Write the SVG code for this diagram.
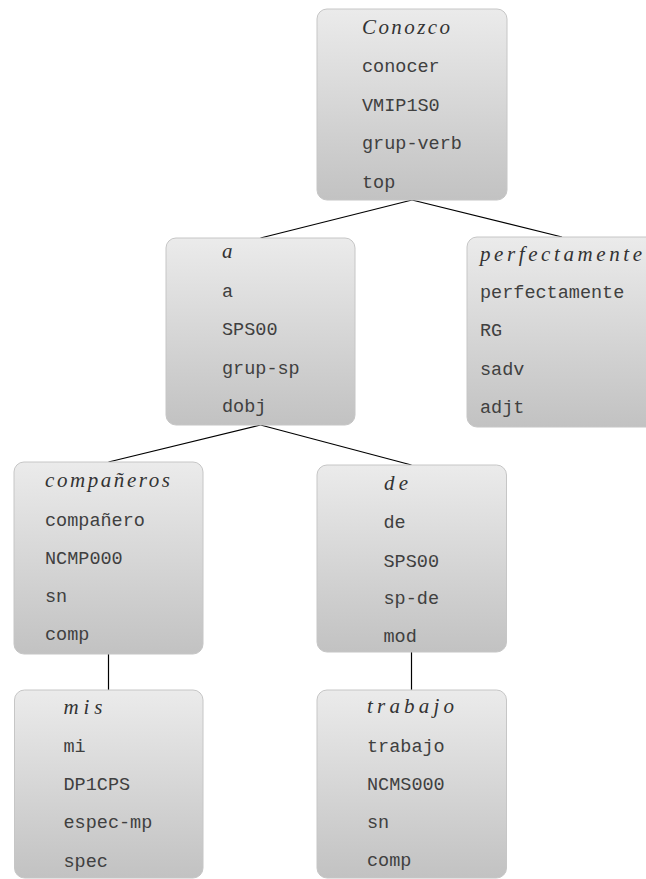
<svg xmlns="http://www.w3.org/2000/svg" width="646" height="879" viewBox="0 0 646 879">
<defs>
<linearGradient id="g" x1="0" y1="0" x2="0" y2="1">
<stop offset="0" stop-color="#ebebeb"/>
<stop offset="1" stop-color="#c2c2c2"/>
</linearGradient>
<style>
.box{fill:url(#g);stroke:#c6c6c6;stroke-width:1}
.t{font-family:"Liberation Mono","DejaVu Sans Mono",monospace;font-size:18.5px;fill:#404040}
.w{font-family:"Liberation Serif","DejaVu Serif",serif;font-style:italic;font-size:21px;fill:#333}
.c line{stroke:#000;stroke-width:1.2}
</style>
</defs>
<rect width="646" height="879" fill="#fff"/>
<g class="c" id="connectors">
<line x1="412" y1="200" x2="260.5" y2="238"/>
<line x1="412" y1="200" x2="562" y2="237"/>
<line x1="260.5" y1="425" x2="108.5" y2="462"/>
<line x1="260.5" y1="425" x2="411.5" y2="465"/>
<line x1="108.5" y1="654" x2="108.5" y2="690"/>
<line x1="411.5" y1="652" x2="411.5" y2="690"/>
</g>
<g id="n-conozco">
<rect class="box" x="317" y="9" width="190" height="191" rx="10"/>
<text class="w" x="362" y="33.5" textLength="88" lengthAdjust="spacing">Conozco</text>
<text class="t" x="362" y="72">conocer</text>
<text class="t" x="362" y="110.5">VMIP1S0</text>
<text class="t" x="362" y="149">grup-verb</text>
<text class="t" x="362" y="187.5">top</text>
</g>
<g id="n-a">
<rect class="box" x="166" y="238" width="189" height="187" rx="10"/>
<text class="w" x="222" y="258">a</text>
<text class="t" x="222" y="297">a</text>
<text class="t" x="222" y="335">SPS00</text>
<text class="t" x="222" y="373.5">grup-sp</text>
<text class="t" x="222" y="412">dobj</text>
</g>
<g id="n-perfectamente">
<rect class="box" x="467" y="237" width="190" height="190" rx="10"/>
<text class="w" x="480" y="261" textLength="162" lengthAdjust="spacing">perfectamente</text>
<text class="t" x="480" y="298">perfectamente</text>
<text class="t" x="480" y="336">RG</text>
<text class="t" x="480" y="374.5">sadv</text>
<text class="t" x="480" y="413">adjt</text>
</g>
<g id="n-companeros">
<rect class="box" x="14" y="462" width="189" height="192" rx="10"/>
<text class="w" x="45" y="487" textLength="125" lengthAdjust="spacing">compañeros</text>
<text class="t" x="45" y="525.5">compañero</text>
<text class="t" x="45" y="564">NCMP000</text>
<text class="t" x="45" y="602">sn</text>
<text class="t" x="45" y="640">comp</text>
</g>
<g id="n-de">
<rect class="box" x="317" y="465" width="189.5" height="187" rx="10"/>
<text class="w" x="384" y="490" textLength="24" lengthAdjust="spacing">de</text>
<text class="t" x="383.5" y="528">de</text>
<text class="t" x="383.5" y="566.5">SPS00</text>
<text class="t" x="383.5" y="604">sp-de</text>
<text class="t" x="383.5" y="641.5">mod</text>
</g>
<g id="n-mis">
<rect class="box" x="14.5" y="690" width="188.5" height="188" rx="10"/>
<text class="w" x="63.5" y="714" textLength="39" lengthAdjust="spacing">mis</text>
<text class="t" x="63.5" y="752">mi</text>
<text class="t" x="63.5" y="790">DP1CPS</text>
<text class="t" x="63.5" y="828">espec-mp</text>
<text class="t" x="63.5" y="866.5">spec</text>
</g>
<g id="n-trabajo">
<rect class="box" x="317" y="690" width="189.5" height="188" rx="10"/>
<text class="w" x="367" y="713" textLength="87" lengthAdjust="spacing">trabajo</text>
<text class="t" x="367" y="752">trabajo</text>
<text class="t" x="367" y="790">NCMS000</text>
<text class="t" x="367" y="828">sn</text>
<text class="t" x="367" y="866">comp</text>
</g>
</svg>
